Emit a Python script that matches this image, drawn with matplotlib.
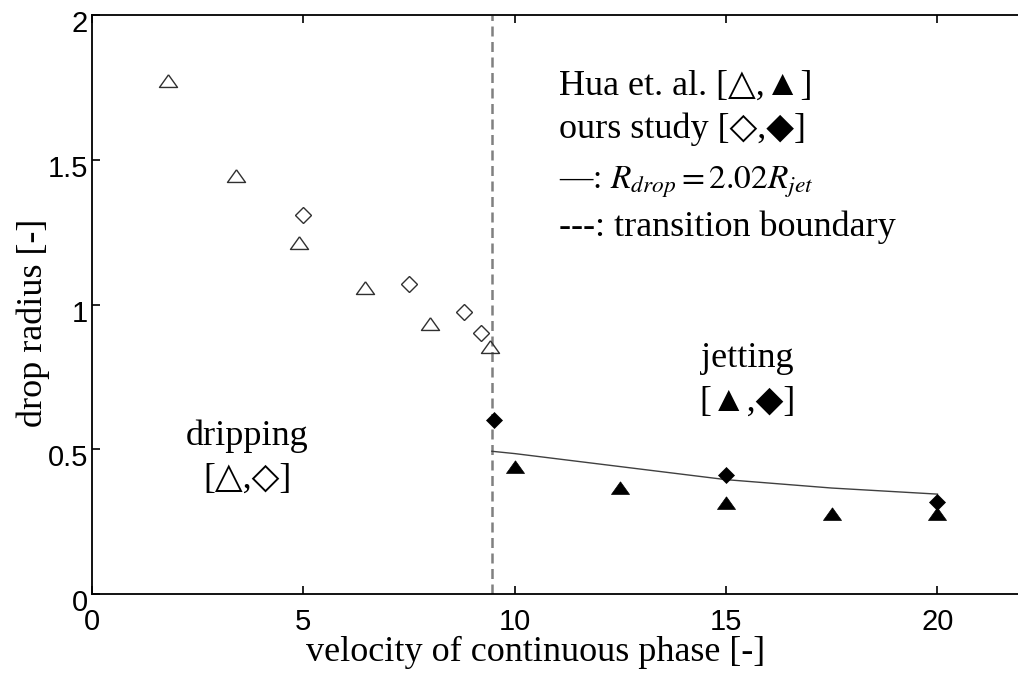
import numpy as np
import matplotlib
matplotlib.use("Agg")
import matplotlib.pyplot as plt
from matplotlib.transforms import ScaledTranslation

plt.rcParams["mathtext.fontset"] = "stix"

SERIF = ["Liberation Serif", "DejaVu Sans"]
SANS = ["Liberation Sans", "DejaVu Sans"]

# Hua et al. -- dripping (hollow triangles)
hua_drip_x = [1.8, 3.4, 4.9, 6.45, 8.0, 9.42]
hua_drip_y = [1.77, 1.44, 1.21, 1.055, 0.93, 0.85]
# our study -- dripping (hollow diamonds)
ours_drip_x = [5.0, 7.5, 8.8, 9.2]
ours_drip_y = [1.31, 1.07, 0.975, 0.90]
# Hua et al. -- jetting (filled triangles)
hua_jet_x = [10.0, 12.5, 15.0, 17.5, 20.0]
hua_jet_y = [0.434, 0.362, 0.312, 0.272, 0.272]
# our study -- jetting (filled diamonds)
ours_jet_x = [9.5, 15.0, 20.0]
ours_jet_y = [0.60, 0.412, 0.318]
# R_drop = 2.02 R_jet
fit_x = [9.46, 10.0, 12.5, 15.0, 17.5, 20.0]
fit_y = [0.493, 0.485, 0.440, 0.395, 0.366, 0.345]
# transition boundary
u_trans = 9.46

tri = [(0, 0.85), (-1, -0.55), (1, -0.55), (0, 0.85)]

fig = plt.figure(figsize=(10.18, 6.73), dpi=100)
ax = fig.add_axes([92 / 1018, 79 / 673, 930 / 1018, 579 / 673])

ax.plot([u_trans, u_trans], [0, 2], color="#808080", lw=1.8, ls=(0, (4, 2.2)), zorder=1)
ax.plot(fit_x, fit_y, color="#404040", lw=1.0, zorder=2)

ax.plot(hua_drip_x, hua_drip_y, ls="none", marker=tri, ms=13, mfc="none",
        mec="#303030", mew=1.0, zorder=3)
ax.plot(ours_drip_x, ours_drip_y, ls="none", marker="D", ms=8.5, mfc="none",
        mec="#303030", mew=1.0, zorder=3)
ax.plot(hua_jet_x, hua_jet_y, ls="none", marker=tri, ms=13, mfc="black",
        mec="black", mew=0.5, zorder=3)
ax.plot(ours_jet_x, ours_jet_y, ls="none", marker="D", ms=8.5, mfc="black",
        mec="black", mew=0.5, zorder=4)

ax.set_xlim(0, 22)
ax.set_ylim(0, 2)
ax.set_xticks([0, 5, 10, 15, 20])
ax.set_yticks([0, 0.5, 1, 1.5, 2])
ax.set_xticklabels(["0", "5", "10", "15", "20"])
ax.set_yticklabels(["0", "0.5", "1", "1.5", "2"])
ax.tick_params(direction="in", length=6, width=1.2, top=True, right=False,
               labelsize=21, colors="black")
ax.tick_params(axis="x", pad=10)
ax.tick_params(axis="y", pad=3)
for lbl in ax.get_xticklabels() + ax.get_yticklabels():
    lbl.set_family(SANS)
shift = ScaledTranslation(0, -6 / 100, fig.dpi_scale_trans)
for lbl in ax.get_yticklabels():
    lbl.set_transform(lbl.get_transform() + shift)
for sp in ax.spines.values():
    sp.set_linewidth(1.3)

ax.set_xlabel("velocity of continuous phase [-]", family=SERIF, fontsize=26)
ax.set_ylabel("drop radius [-]", family=SERIF, fontsize=26)
ax.xaxis.set_label_coords(0.477, -0.072, transform=ax.transAxes)
ax.yaxis.set_label_coords(-0.045, 0.468, transform=ax.transAxes)

ax.text(11.05, 1.724, "Hua et. al. [\u25b3,\u25b2]", family=SERIF, fontsize=26, va="baseline")
ax.text(11.05, 1.576, "ours study [\u25c7,\u25c6]", family=SERIF, fontsize=26, va="baseline")
ax.text(11.05, 1.40, "\u2014: $R_{drop} = 2.02R_{jet}$", family=SERIF, fontsize=24, va="baseline")
ax.text(11.05, 1.238, "---: transition boundary", family=SERIF, fontsize=26, va="baseline")

ax.text(15.5, 0.783, "jetting", family=SERIF, fontsize=26, ha="center", va="baseline")
ax.text(15.5, 0.634, "[\u25b2,\u25c6]", family=SERIF, fontsize=26, ha="center", va="baseline")
ax.text(3.67, 0.514, "dripping", family=SERIF, fontsize=26, ha="center", va="baseline")
ax.text(3.67, 0.366, "[\u25b3,\u25c7]", family=SERIF, fontsize=26, ha="center", va="baseline")

fig.savefig("out.png", dpi=100)
